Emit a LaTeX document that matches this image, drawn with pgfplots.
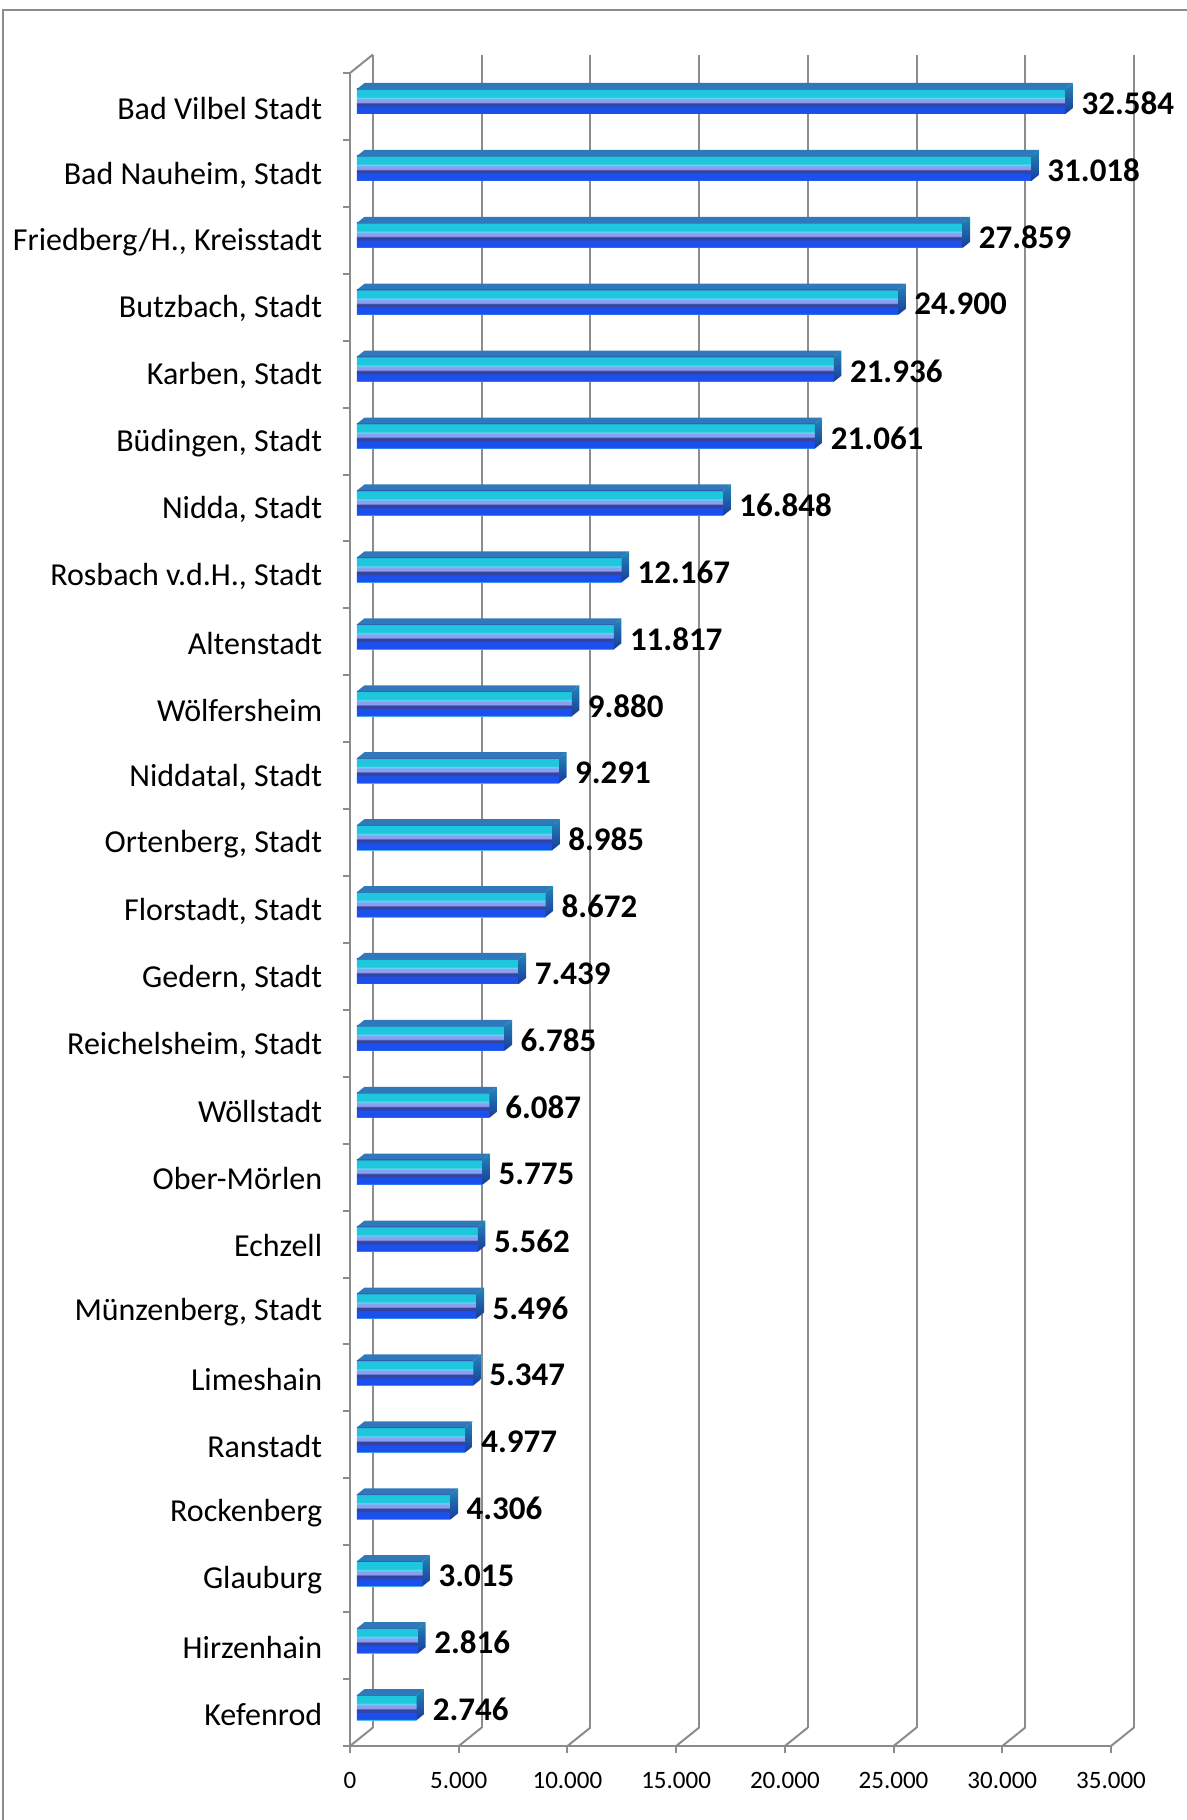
\documentclass[border=0pt]{standalone}
\usepackage{pgfplots}
\pgfplotsset{compat=1.18}
\usepackage{pgfplotstable}
\usepackage{fontspec}
\setmainfont{Carlito}
\definecolor{axgray}{HTML}{8C8C8C}
\definecolor{topc}{HTML}{2F79BB}
\definecolor{cyanA}{HTML}{1EC6DE}
\definecolor{cyanL}{HTML}{62D6EE}
\definecolor{lav}{HTML}{8C9EF2}
\definecolor{navy}{HTML}{33449E}
\definecolor{blueB}{HTML}{1B4FEE}
\definecolor{edgeL}{HTML}{58C4EE}
\definecolor{sideT}{HTML}{2288B8}
\definecolor{sideB}{HTML}{1A3A9A}
\pgfdeclareverticalshading{frontshade}{100bp}{color(0bp)=(edgeL); color(25bp)=(edgeL); color(27bp)=(blueB); color(39bp)=(blueB); color(42bp)=(navy); color(46bp)=(navy); color(49bp)=(lav); color(54bp)=(lav); color(57bp)=(cyanL); color(60bp)=(cyanA); color(73.5bp)=(cyanA); color(75bp)=(topc); color(100bp)=(topc)}
\pgfdeclareverticalshading{sideshade}{100bp}{color(0bp)=(sideB); color(25bp)=(sideB); color(75bp)=(sideT); color(100bp)=(sideT)}

\pgfplotstableread[col sep=semicolon]{
name;value
Kefenrod;2746
Hirzenhain;2816
Glauburg;3015
Rockenberg;4306
Ranstadt;4977
Limeshain;5347
Münzenberg, Stadt;5496
Echzell;5562
Ober-Mörlen;5775
Wöllstadt;6087
Reichelsheim, Stadt;6785
Gedern, Stadt;7439
Florstadt, Stadt;8672
Ortenberg, Stadt;8985
Niddatal, Stadt;9291
Wölfersheim;9880
Altenstadt;11817
Rosbach v.d.H., Stadt;12167
Nidda, Stadt;16848
Büdingen, Stadt;21061
Karben, Stadt;21936
Butzbach, Stadt;24900
Friedberg/H., Kreisstadt;27859
Bad Nauheim, Stadt;31018
Bad Vilbel Stadt;32584
}\data

\begin{document}
\begin{tikzpicture}
\useasboundingbox (0,0) rectangle (593.5pt,-910pt);
\draw[axgray, line width=1pt] (1.5pt,-910pt) -- (1.5pt,-5pt) -- (593.5pt,-5pt);
\begin{axis}[
  at={(175pt,-873pt)}, anchor=south west,
  scale only axis, width=380.5pt, height=836.5pt,
  xmin=0, xmax=35000, ymin=-0.5, ymax=24.5,
  clip=false,
  axis x line=bottom, axis y line=left,
  every outer x axis line/.append style={-},
  every outer y axis line/.append style={-},
  axis line style={-, draw=axgray, line width=1pt},
  tick align=outside,
  major tick length=3.5pt,
  tick style={draw=axgray, line width=1pt},
  scaled x ticks=false,
  xtick={0,5000,10000,15000,20000,25000,30000,35000},
  xticklabels={0,5.000,10.000,15.000,20.000,25.000,30.000,35.000},
  xticklabel style={font=\fontsize{12.5}{15}\selectfont, yshift=-6pt},
  ytick={-0.5,0.5,...,24.5},
  yticklabels={},
  extra y ticks={0,1,...,24},
  extra y tick labels={Kefenrod,Hirzenhain,Glauburg,Rockenberg,Ranstadt,Limeshain,{Münzenberg, Stadt},Echzell,Ober-Mörlen,Wöllstadt,{Reichelsheim, Stadt},{Gedern, Stadt},{Florstadt, Stadt},{Ortenberg, Stadt},{Niddatal, Stadt},Wölfersheim,Altenstadt,{Rosbach v.d.H., Stadt},{Nidda, Stadt},{Büdingen, Stadt},{Karben, Stadt},{Butzbach, Stadt},{Friedberg/H., Kreisstadt},{Bad Nauheim, Stadt},Bad Vilbel Stadt},
  extra y tick style={tick style={draw=none}},
  yticklabel style={font=\fontsize{16}{19}\selectfont, xshift=-6.9pt, yshift=-0.8pt},
]
% back wall grid lines and floor slants
\pgfplotsinvokeforeach{0,5000,10000,15000,20000,25000,30000,35000}{
  \addplot[axgray, line width=1pt, xshift=11.5pt, yshift=9.25pt] coordinates {(#1,-0.5) (#1,24.5)};
  \addplot[axgray, line width=1pt] coordinates {(#1,-0.5)} -- ++(11.5pt,9.25pt);
}
\addplot[axgray, line width=1pt] coordinates {(0,24.5)} -- ++(11.5pt,9.25pt);
% 3D bars
\pgfplotsinvokeforeach{0,...,24}{
  \pgfplotstablegetelem{#1}{value}\of\data
  \edef\va{\pgfplotsretval}
  \pgfkeys{/pgf/fpu=true,/pgf/fpu/output format=sci}
  \pgfmathparse{\va+345}\edef\vb{\pgfmathresult}
  \pgfkeys{/pgf/fpu=false}
  \pgfmathsetmacro\ya{#1+0.18679}
  \pgfmathsetmacro\yb{#1+0.27645}
  \pgfmathsetmacro\yc{#1-0.18679}
  \pgfmathsetmacro\yd{#1-0.09713}
  \addplot[shading=frontshade, shade, draw=none, xshift=3.5pt, yshift=2.5pt] coordinates {(0,\yc) (\va,\yc) (\va,\ya) (0,\ya)} -- cycle;
  \addplot[fill=topc, draw=none, xshift=3.5pt, yshift=2.5pt] coordinates {(0,\ya) (\va,\ya) (\vb,\yb) (345,\yb)} -- cycle;
  \addplot[shading=sideshade, shade, draw=none, xshift=3.5pt, yshift=2.5pt] coordinates {(\va,\yc) (\va,\ya) (\vb,\yb) (\vb,\yd)} -- cycle;
}
% value labels
\addplot[xbar, bar width=0.1pt, bar shift=0pt, draw=none, fill=none,
  point meta=x,
  nodes near coords={\pgfmathprintnumber[fixed,precision=0,1000 sep={.},assume math mode=true]{\pgfplotspointmeta}},
  nodes near coords style={anchor=west, xshift=8pt, yshift=1.5pt, font=\fontsize{16.5}{19}\selectfont\bfseries, text=black}]
  table[x=value, y expr=\coordindex] {\data};
\end{axis}
\end{tikzpicture}
\end{document}
